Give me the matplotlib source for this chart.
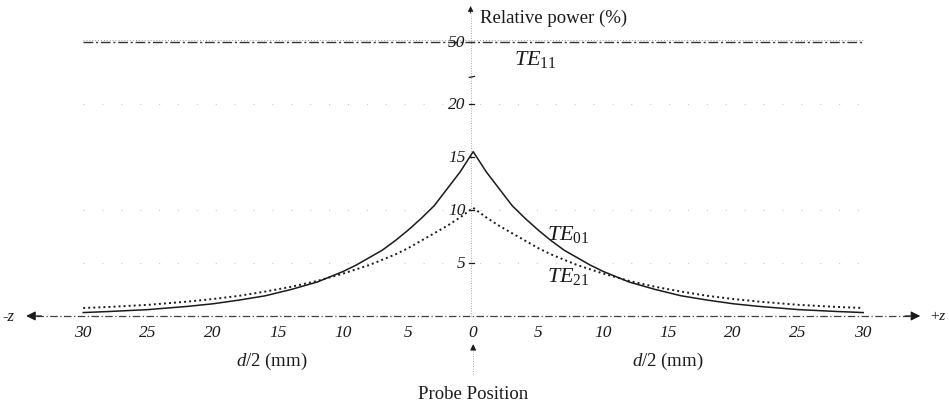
import numpy as np
import matplotlib
matplotlib.use("Agg")
import matplotlib.pyplot as plt

plt.rcParams['font.family'] = ['Liberation Serif', 'DejaVu Serif']
plt.rcParams['mathtext.fontset'] = 'custom'
plt.rcParams['mathtext.rm'] = 'Liberation Serif'
plt.rcParams['mathtext.it'] = 'Liberation Serif:italic'

# distance from probe, mm (same on both sides)
z_mm = [0, 1, 2, 3, 4, 5, 6, 7, 8, 9, 10, 12, 14, 16, 18, 20, 22, 25, 28, 30]
te01 = [15.5, 13.6, 12.0, 10.4, 9.2, 8.1, 7.1, 6.2, 5.5, 4.8, 4.2,
        3.2, 2.5, 1.9, 1.5, 1.15, 0.9, 0.6, 0.42, 0.32]
te21 = [10.2, 9.3, 8.5, 7.8, 7.1, 6.4, 5.8, 5.3, 4.8, 4.4, 4.0,
        3.3, 2.75, 2.3, 1.9, 1.6, 1.35, 1.05, 0.85, 0.75]
te11 = 50.0
y_ticks = [5, 10, 15, 20, 50]
x_ticks = [30, 25, 20, 15, 10, 5, 0, 5, 10, 15, 20, 25, 30]
x_pos = [-30, -25, -20, -15, -10, -5, 0, 5, 10, 15, 20, 25, 30]


def to_pos(v):
    # broken axis: linear up to 20, compressed above
    v = np.asarray(v, dtype=float)
    return np.where(v <= 20, v, 20 + (v - 20) * 0.195)


def mirror(z, y):
    z = np.asarray(z, dtype=float)
    y = np.asarray(y, dtype=float)
    return np.concatenate([-z[::-1], z[1:]]), np.concatenate([y[::-1], y[1:]])


fig = plt.figure(figsize=(9.49, 4.06), dpi=100)
ax = fig.add_axes([0, 0, 1, 1])
ax.set_xlim(-36.4, 36.6)
ax.set_ylim(-8.4, 29.9)
ax.axis('off')

ink = '#1a1a1a'

# faint grid dots
for lev in [5, 10, 20]:
    ax.plot([-30, 30], [lev, lev], color='0.78', lw=0.8, ls=(0, (1, 16)))

# x axis with arrows
ax.plot([-33.6, 33.6], [0, 0], color='0.25', lw=0.9, ls=(0, (6, 2, 1, 2)))
ax.annotate('', xy=(-34.6, 0), xytext=(-33.0, 0),
            arrowprops=dict(arrowstyle='-|>', color=ink, lw=0.8, mutation_scale=14))
ax.annotate('', xy=(34.6, 0), xytext=(33.0, 0),
            arrowprops=dict(arrowstyle='-|>', color=ink, lw=0.8, mutation_scale=14))
ax.text(-35.3, 0, '-z', ha='right', va='center', fontsize=12, style='italic', color=ink)
ax.text(35.1, 0, '+z', ha='left', va='center', fontsize=11, style='italic', color=ink)

# y axis
ax.plot([-0.2, -0.2], [0, 28.6], color='0.55', lw=0.6, ls=(0, (1, 2)))
ax.annotate('', xy=(-0.2, 29.5), xytext=(-0.2, 28.3),
            arrowprops=dict(arrowstyle='-|>', color=ink, lw=0.6, mutation_scale=8))
ax.text(0.5, 28.2, 'Relative power (%)', ha='left', va='center', fontsize=13.5, color=ink)

for t in y_ticks:
    p = float(to_pos(t))
    ax.plot([-0.3, 0.1], [p, p], color=ink, lw=0.9)
    ax.text(-0.6, p, str(t), ha='right', va='center', fontsize=12.5,
            style='italic', color=ink)
ax.plot([-0.3, 0.1], [22.5, 22.6], color=ink, lw=0.9)

for xp, lab in zip(x_pos, x_ticks):
    ax.text(xp, -1.5, str(lab), ha='center', va='center', fontsize=12.5,
            style='italic', color=ink)

ax.text(-15.5, -4.2, '$d$/2 (mm)', ha='center', va='center', fontsize=13.5, color=ink)
ax.text(15.0, -4.2, '$d$/2 (mm)', ha='center', va='center', fontsize=13.5, color=ink)

# probe position marker
ax.plot([0, 0], [-5.5, -3.3], color='0.55', lw=0.6, ls=(0, (1, 2)))
ax.annotate('', xy=(0, -2.4), xytext=(0, -3.4),
            arrowprops=dict(arrowstyle='-|>', color=ink, lw=0.6, mutation_scale=9))
ax.text(0, -7.3, 'Probe Position', ha='center', va='center', fontsize=13.5, color=ink)

# TE11 line
p11 = float(to_pos(te11))
ax.plot([-30, 30], [p11 + 0.2, p11 + 0.2], color='0.6', lw=0.7, ls=(0, (1, 2)))
ax.plot([-30, 30], [p11, p11], color='0.2', lw=1.0, ls=(0, (7, 2, 1.5, 2)))
ax.text(4.8, p11 - 1.6, r'$TE_{\mathit{11}}$', ha='center', va='center',
        fontsize=16, color=ink)

# TE01 and TE21 curves
zz, y01 = mirror(z_mm, te01)
ax.plot(zz, y01, color=ink, lw=1.1)
zz, y21 = mirror(z_mm, te21)
ax.plot(zz, y21, color=ink, lw=1.4, ls=(0, (1, 1.6)))

ax.text(7.3, 7.8, r'$TE_{\mathit{01}}$', ha='center', va='center', fontsize=16, color=ink)
ax.text(7.3, 3.8, r'$TE_{\mathit{21}}$', ha='center', va='center', fontsize=16, color=ink)

fig.savefig('out.png', dpi=100, facecolor='white')
